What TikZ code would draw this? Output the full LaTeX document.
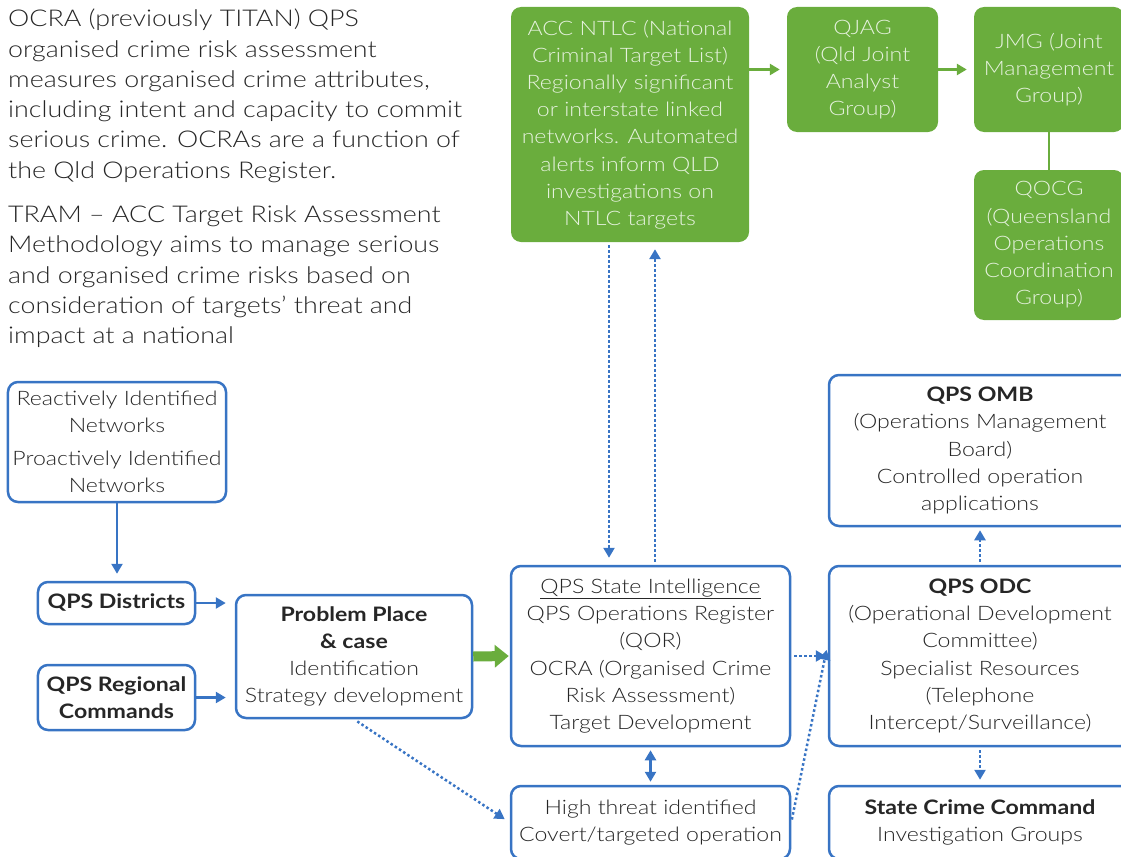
\documentclass[tikz,border=0pt]{standalone}
\usepackage{fontspec}
\setmainfont{Lato Light}[BoldFont={Lato Bold}, FakeStretch=1.16]
\usetikzlibrary{arrows.meta}
\definecolor{qblue}{HTML}{3874C4}
\definecolor{qgreen}{HTML}{6AAD3D}
\definecolor{qtext}{HTML}{262626}
\definecolor{qlight}{HTML}{E6F2DE}
\tikzset{
  boxfont/.style={font=\fontsize{20}{27.3}\selectfont},
  bluebox/.style={draw=qblue, line width=2.5bp, rounded corners=10bp, fill=white,
    text=qtext, align=center, inner sep=0pt, boxfont},
  greenbox/.style={fill=qgreen, rounded corners=10bp, text=qlight, align=center,
    inner sep=0pt, boxfont},
  solidarrow/.style={qblue, line width=2.5bp, -{Triangle[length=10bp,width=11bp]}},
  dotarrow/.style={qblue, line width=2.5bp, dash pattern=on 2.5bp off 2.5bp,
    -{Triangle[length=10bp,width=11bp]}},
  greenarrow/.style={qgreen, line width=2.5bp, -{Triangle[length=10bp,width=11bp]}},
  fatarrow/.style={qgreen, line width=10bp, -{Triangle[length=14bp,width=22bp]}},
}
\begin{document}
\begin{tikzpicture}[x=1bp, y=-1bp]
\useasboundingbox (0,0) rectangle (1121,857);

% explanatory text
\node[anchor=north west, inner sep=0pt, align=left, text=qtext,
      font=\fontsize{23.2}{30.4}\selectfont] (notes) at (8,9)
  {OCRA (previously TITAN) QPS\\
   organised crime risk assessment\\
   measures organised crime attributes,\\
   including intent and capacity to commit\\
   serious crime. OCRAs are a function of\\
   the Qld Operations Register.\\[14bp]
   TRAM -- ACC Target Risk Assessment\\
   Methodology aims to manage serious\\
   and organised crime risks based on\\
   consideration of targets’ threat and\\
   impact at a national};

% national / joint agency boxes
\node[greenbox, minimum width=238bp, minimum height=235bp] (acc) at (630,124.5)
  {ACC NTLC (National\\Criminal Target List)\\Regionally significant\\or interstate linked\\networks. Automated\\alerts inform QLD\\investigations on\\NTLC targets};
\node[greenbox, minimum width=151bp, minimum height=125bp] (qjag) at (862.5,69.5)
  {QJAG\\(Qld Joint\\Analyst\\Group)};
\node[greenbox, minimum width=150bp, minimum height=125bp] (jmg) at (1049,69.5)
  {JMG (Joint\\Management\\Group)};
\node[greenbox, minimum width=150bp, minimum height=150bp] (qocg) at (1049,245)
  {QOCG\\(Queensland\\Operations\\Coordination\\Group)};

% identification chain
\node[bluebox, minimum width=218bp, minimum height=120bp] (react) at (117,442)
  {Reactively Identified\\Networks\\[6bp]Proactively Identified\\Networks};
\node[bluebox, minimum width=157bp, minimum height=42bp] (dist) at (116.5,603)
  {\textbf{QPS Districts}};
\node[bluebox, minimum width=157bp, minimum height=65bp] (reg) at (116.5,697.5)
  {\textbf{QPS Regional}\\\textbf{Commands}};
\node[bluebox, minimum width=236bp, minimum height=123bp] (prob) at (354,656.5)
  {\textbf{Problem Place}\\\textbf{\& case}\\Identification\\Strategy development};

% intelligence and operations
\node[bluebox, minimum width=279bp, minimum height=180bp] (state) at (650.5,656)
  {\underline{QPS State Intelligence}\\QPS Operations Register\\(QOR)\\OCRA (Organised Crime\\Risk Assessment)\\Target Development};
\node[bluebox, minimum width=279bp, minimum height=73bp] (high) at (650.5,822.5)
  {High threat identified\\Covert/targeted operation};
\node[bluebox, minimum width=302bp, minimum height=151bp] (omb) at (980,450.5)
  {\textbf{QPS OMB}\\(Operations Management\\Board)\\Controlled operation\\applications};
\node[bluebox, minimum width=302bp, minimum height=180bp] (odc) at (980,656)
  {\textbf{QPS ODC}\\(Operational Development\\Committee)\\Specialist Resources\\(Telephone\\Intercept/Surveillance)};
\node[bluebox, minimum width=302bp, minimum height=73bp] (scc) at (980,822.5)
  {\textbf{State Crime Command}\\Investigation Groups};

% green connectors
\draw[greenarrow, shorten >=7bp] (acc.east |- qjag.west) -- (qjag.west);
\draw[greenarrow, shorten >=7bp] (qjag.east) -- (jmg.west);
\draw[qgreen, line width=2.5bp] (jmg.south) -- (qocg.north);

% blue connectors
\draw[solidarrow, shorten >=7bp] (react.south) -- (react.south |- dist.north);
\draw[solidarrow, shorten >=9bp] (dist.east) -- (dist.east -| prob.west);
\draw[solidarrow, shorten >=9bp] (reg.east) -- (reg.east -| prob.west);
\draw[fatarrow, shorten >=1bp] (prob.east) -- (state.west);

\coordinate (accdown) at ([xshift=-21bp]acc.south);
\coordinate (accup) at ([xshift=25bp]acc.south);
\draw[dotarrow, shorten <=3bp, shorten >=7bp] (accdown) -- (accdown |- state.north);
\draw[dotarrow, shorten <=3bp, shorten >=7bp] (accup |- state.north) -- (accup);

\draw[dotarrow, shorten <=3bp, shorten >=2bp] (state.east) -- (odc.west);
\coordinate (odcin) at ([yshift=12bp]odc.west);
\draw[dotarrow, shorten <=3bp, shorten >=6bp] (high.east) -- (odcin);
\draw[dotarrow, shorten <=4bp, shorten >=6bp] (prob.south) -- (high.west);
\draw[solidarrow, {Triangle[length=10bp,width=11bp]}-{Triangle[length=10bp,width=11bp]},
      shorten <=3bp, shorten >=3bp] (state.south) -- (high.north);
\draw[dotarrow, shorten <=3bp, shorten >=3bp] (odc.north) -- (omb.south);
\draw[dotarrow, shorten <=3bp, shorten >=5bp] (odc.south) -- (scc.north);
\end{tikzpicture}
\end{document}
